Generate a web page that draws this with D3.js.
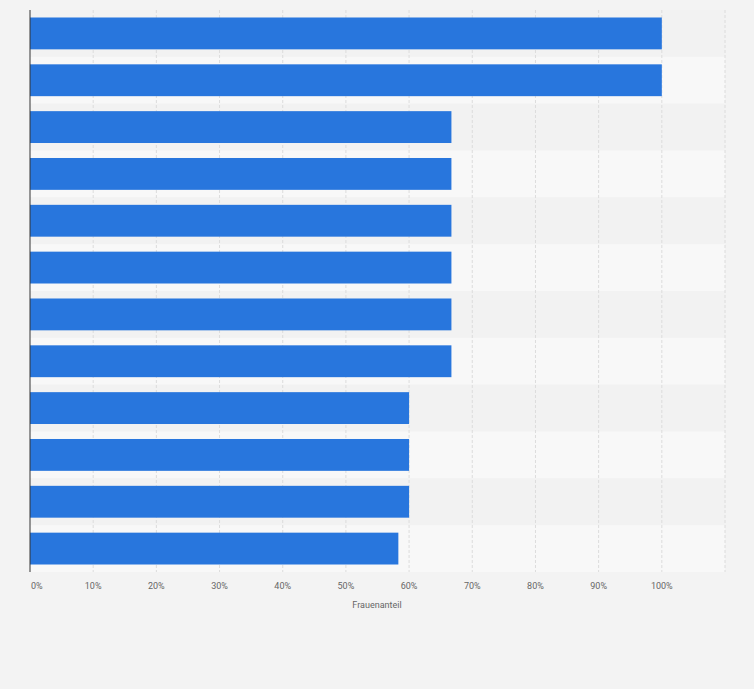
<!DOCTYPE html>
<html><head><meta charset="utf-8">
<script src="https://cdn.jsdelivr.net/npm/d3@7"></script>
<style>body{margin:0;background:#f3f3f3;font-family:Roboto,"Open Sans",sans-serif}</style>
</head><body><svg id="c" width="754" height="689"></svg>
<script>
const categories = ["1","2","3","4","5","6","7","8","9","10","11","12"];
const values = [100,100,66.7,66.7,66.7,66.7,66.7,66.7,60,60,60,58.3];
const tickValues = [0,10,20,30,40,50,60,70,80,90,100];
const axisTitle = "Frauenanteil";

const svg = d3.select("#c");
const m = {l:30, r:29, t:10, b:117};
const W = 754, H = 689;
const x = d3.scaleLinear().domain([0,110]).range([m.l, W-m.r]);
const y = d3.scaleBand().domain(categories).range([m.t, H-m.b]).paddingInner(0.32).paddingOuter(0.16);
const row = d3.scaleBand().domain(categories).range([m.t, H-m.b]);

svg.append("rect").attr("width",W).attr("height",H).attr("fill","#f3f3f3");
svg.selectAll(".row").data(categories).join("rect")
  .attr("x",m.l).attr("width",x(110)-m.l)
  .attr("y",d=>row(d)).attr("height",row.bandwidth())
  .attr("fill",(d,i)=>i%2?"#f8f8f8":"#f2f2f2");
svg.selectAll(".grid").data(tickValues.concat([110]).slice(1)).join("line")
  .attr("x1",d=>x(d)).attr("x2",d=>x(d)).attr("y1",m.t).attr("y2",H-m.b)
  .attr("stroke","#dcdcdc").attr("stroke-dasharray","3,2");
svg.selectAll(".bar").data(values).join("rect")
  .attr("x",x(0)).attr("y",(d,i)=>y(categories[i]))
  .attr("width",d=>x(d)-x(0)).attr("height",y.bandwidth())
  .attr("fill","#2876dd");
svg.append("line").attr("x1",m.l).attr("x2",m.l).attr("y1",m.t).attr("y2",H-m.b).attr("stroke","#333");
svg.selectAll(".tl").data(tickValues).join("text")
  .attr("x",d=>d===0?x(d)+1:x(d)).attr("y",589)
  .attr("text-anchor",d=>d===0?"start":"middle")
  .attr("font-size",9).attr("fill","#666").text(d=>d+"%");
svg.append("text").attr("x",377).attr("y",608).attr("text-anchor","middle")
  .attr("font-size",9).attr("fill","#666").text(axisTitle);
</script></body></html>
